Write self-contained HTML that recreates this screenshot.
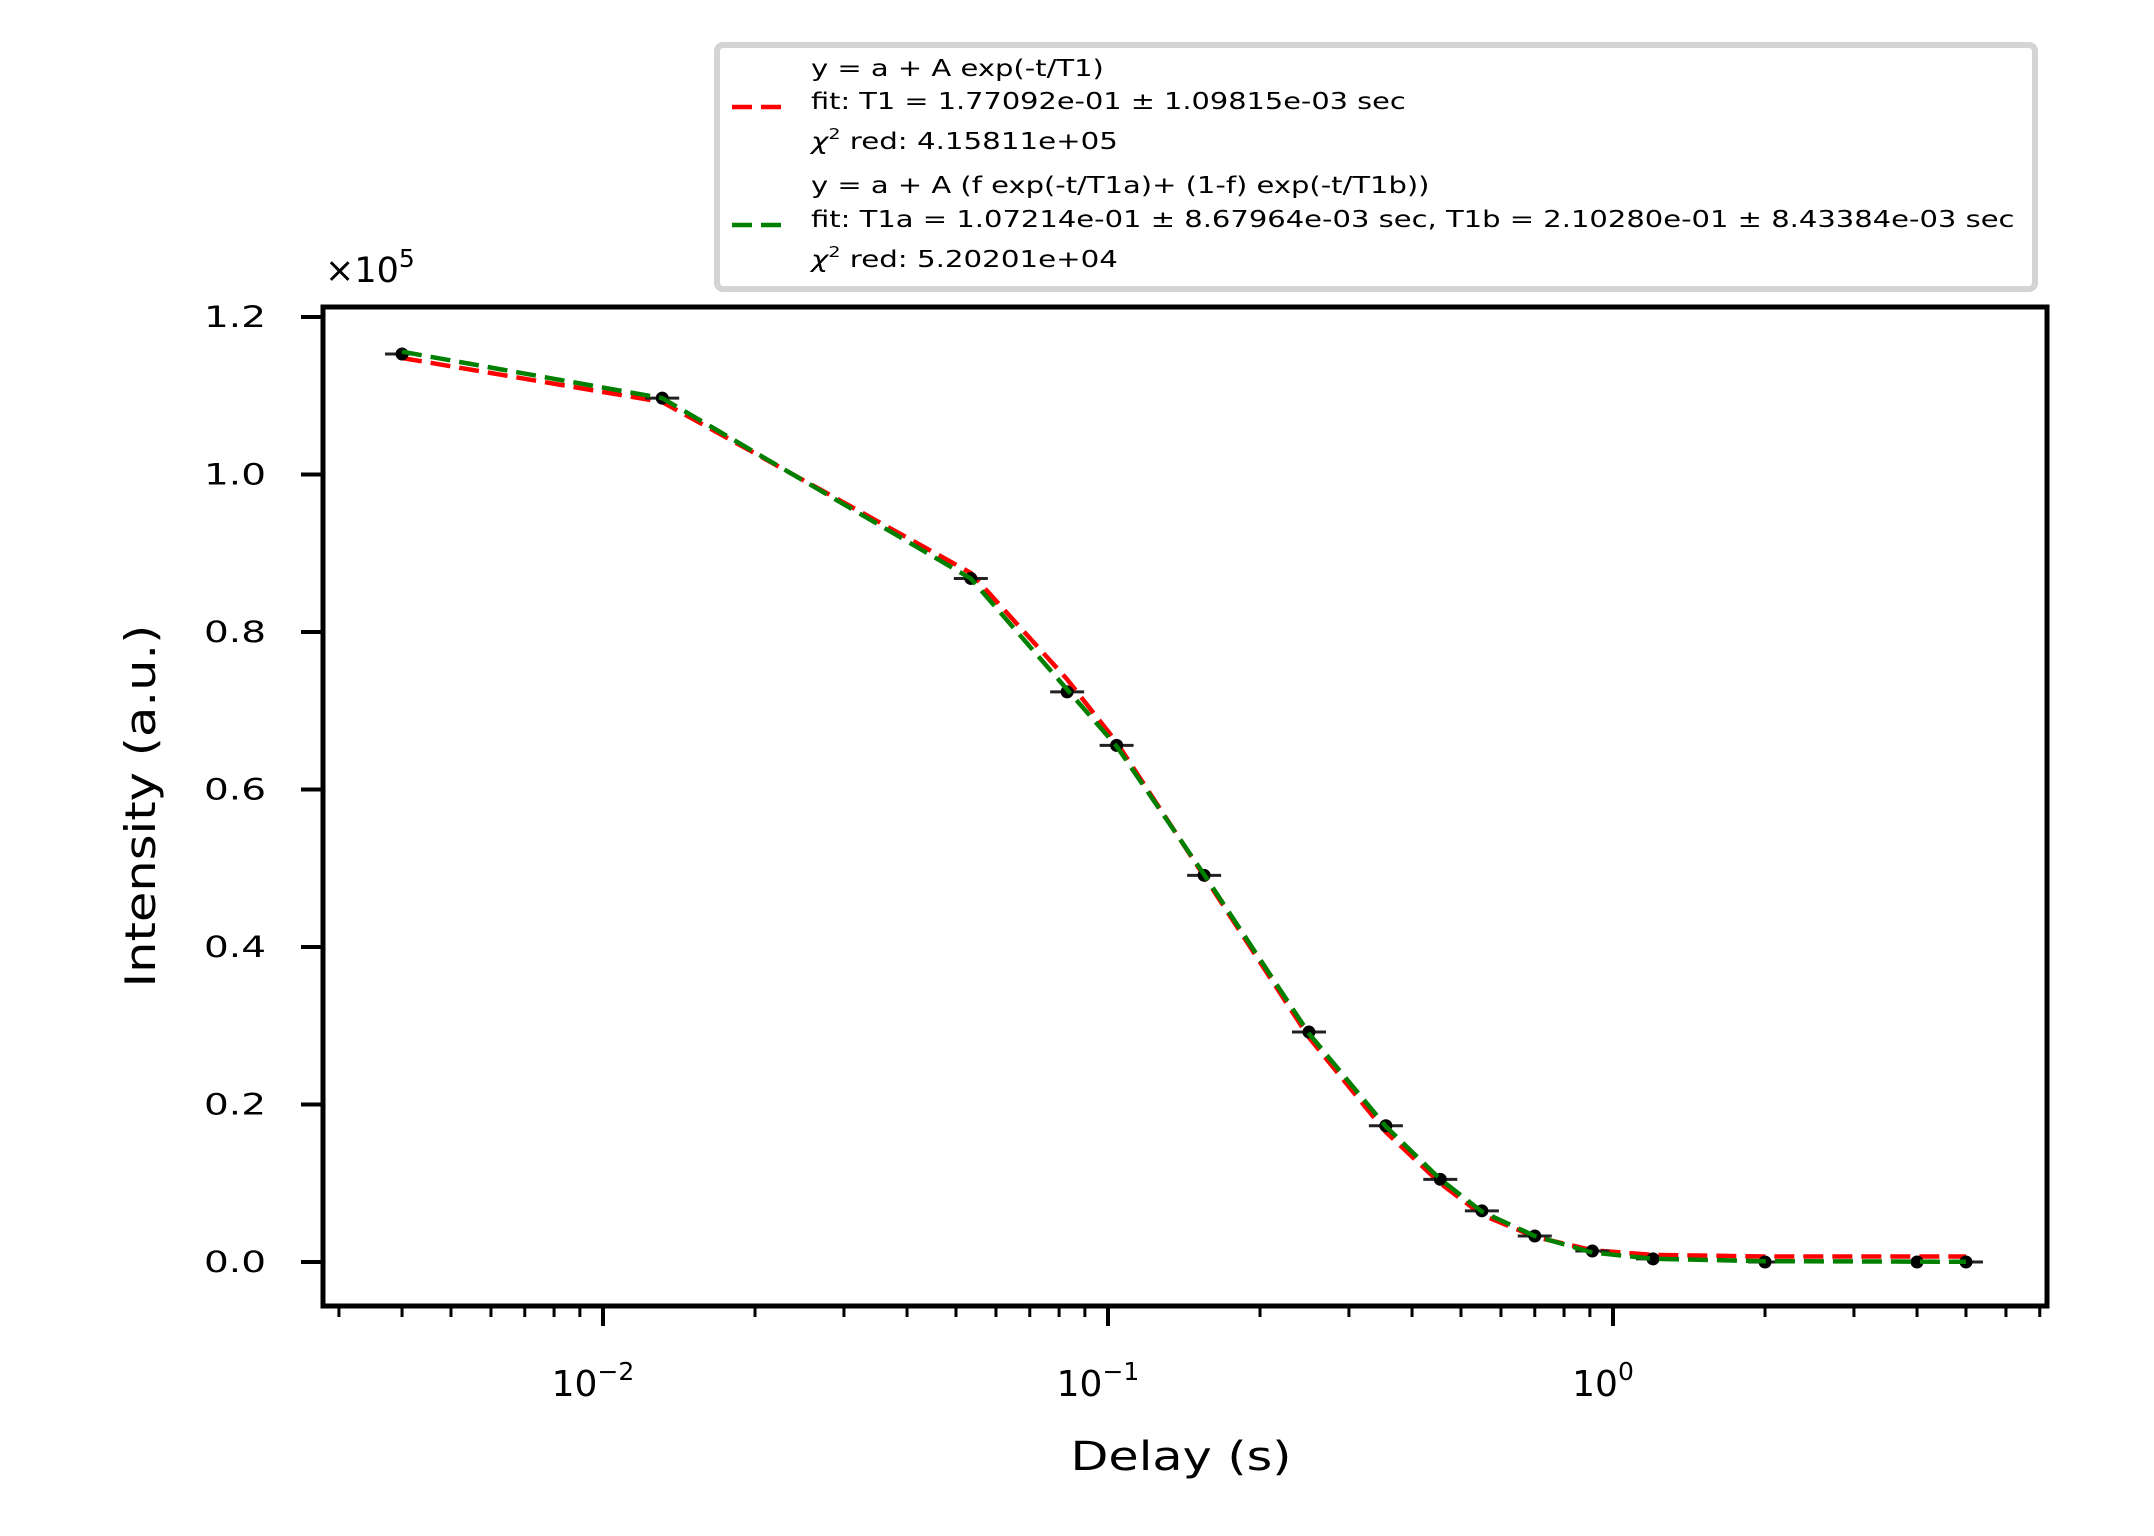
<!DOCTYPE html>
<html><head><meta charset="utf-8"><style>
html,body{margin:0;padding:0;background:#fff;}
svg{display:block;font-family:"DejaVu Sans","Liberation Sans",sans-serif;}
</style></head><body>
<svg id="chart" width="2154" height="1536" viewBox="0 0 2154 1536">
<g id="plot"></g>
</svg>
<script>
const delays=[0.004,0.0131,0.0535,0.083,0.104,0.155,0.25,0.355,0.455,0.55,0.70,0.91,1.2,2.0,4.0,5.0];
const intensity=[1.153,1.097,0.868,0.724,0.656,0.491,0.292,0.173,0.105,0.065,0.033,0.014,0.004,0.0,0.0,0.0];
const fitSingle=[1.148,1.092,0.875,0.740,0.660,0.490,0.285,0.165,0.100,0.060,0.032,0.015,0.009,0.007,0.007,0.007];
const fitDouble=[1.156,1.097,0.868,0.727,0.655,0.492,0.290,0.172,0.105,0.064,0.033,0.012,0.004,0.001,0.0005,0.0003];
const yTicks=[0,0.2,0.4,0.6,0.8,1.0,1.2];
const yTickLabels=["0.0","0.2","0.4","0.6","0.8","1.0","1.2"];
const xMajor=[-2,-1,0];

const NS="http://www.w3.org/2000/svg";
const L=323,R=2047,T=307,B=1306;
function xs(v){return 1108+505*(Math.log10(v)+1);}
function ys(v){return 1262-v*787.5;}
const g=document.getElementById('plot');
function el(tag,attrs,parent){const e=document.createElementNS(NS,tag);for(const k in attrs)e.setAttribute(k,attrs[k]);(parent||g).appendChild(e);return e;}

yTicks.forEach((v,i)=>{
  const t=el('line',{x1:L-22,x2:L,y1:ys(v),y2:ys(v),stroke:'#000','stroke-width':4});
  
  
  const lb=el('text',{x:204,y:ys(v)+10,'font-size':29,fill:'#000',textLength:62,lengthAdjust:'spacingAndGlyphs'});
  lb.textContent=yTickLabels[i];
  
  
});
for(let d=-3;d<=0;d++){
  for(let m=1;m<10;m++){
    const v=m*Math.pow(10,d);const x=xs(v);
    if(x<L||x>R)continue;
    const major=(m===1);
    const t=el('line',{x1:x,x2:x,y1:B,y2:B+(major?20:11),stroke:'#000','stroke-width':major?4:3});
    
    
  }
}
xMajor.forEach(p=>{
  const x=xs(Math.pow(10,p));
  const lb=el('text',{x:x-10,y:1396,'text-anchor':'middle','font-size':36,fill:'#000'});
  lb.textContent='10';
  const sp=el('tspan',{dy:-16,'font-size':25},lb);sp.textContent=(p<0?'\u2212':'')+Math.abs(p);
  
  
});

function pathFrom(vals){return delays.map((d,i)=>(i?'L':'M')+xs(d).toFixed(1)+' '+ys(vals[i]).toFixed(1)).join(' ');}
const red=el('path',{d:pathFrom(fitSingle),fill:'none',stroke:'#ff0000','stroke-width':4.5,'stroke-dasharray':'20 9'});


delays.forEach((d,i)=>{
  const x=xs(d),y=ys(intensity[i]);
  const eb=el('line',{x1:x-17,x2:x+17,y1:y,y2:y,stroke:'#222','stroke-width':3});
  
  
  const c=el('circle',{cx:x,cy:y,r:6.5,fill:'#000'});
  
  
});
const green=el('path',{d:pathFrom(fitDouble),fill:'none',stroke:'#008000','stroke-width':4.5,'stroke-dasharray':'20 9'});



const fr=el('rect',{x:L,y:T,width:R-L,height:B-T,fill:'none',stroke:'#000','stroke-width':5});



const off=el('text',{x:325,y:282,'font-size':35,fill:'#000'});off.textContent='\u00d710';
const os=el('tspan',{dy:-15,'font-size':25},off);os.textContent='5';


const yl=el('text',{x:0,y:0,'font-size':42,'text-anchor':'middle',fill:'#000',transform:'translate(155,806) rotate(-90)',textLength:363,lengthAdjust:'spacingAndGlyphs'});
yl.textContent='Intensity (a.u.)';


const xl=el('text',{x:1181,y:1470,'font-size':40,'text-anchor':'middle',fill:'#000',textLength:221,lengthAdjust:'spacingAndGlyphs'});
xl.textContent='Delay (s)';



const lg=el('g',{});


el('rect',{x:717,y:45,width:1318,height:244,rx:6,fill:'#fff',stroke:'#d4d4d4','stroke-width':6},lg);
const l1=el('line',{x1:732,x2:788,y1:107,y2:107,stroke:'#ff0000','stroke-width':4.5,'stroke-dasharray':'20 9'},lg);


const l2=el('line',{x1:732,x2:788,y1:225,y2:225,stroke:'#008000','stroke-width':4.5,'stroke-dasharray':'20 9'},lg);


const lines=[
 [76,'y = a + A exp(-t/T1)',null,293],
 [109,'fit: T1 = 1.77092e-01 \u00b1 1.09815e-03 sec',null,595],
 [149,null,'red: 4.15811e+05',307],
 [193,'y = a + A (f exp(-t/T1a)+ (1-f) exp(-t/T1b))',null,619],
 [227,'fit: T1a = 1.07214e-01 \u00b1 8.67964e-03 sec, T1b = 2.10280e-01 \u00b1 8.43384e-03 sec',null,1204],
 [267,null,'red: 5.20201e+04',307]
];
lines.forEach(l=>{
  const wrap=el('g',{transform:'translate(811,'+l[0]+')'},lg);
  const t=el('text',{x:0,y:0,'font-size':23,fill:'#000'},wrap);
  if(l[1]){t.textContent=l[1];}
  else{
    const a=el('tspan',{'font-style':'italic'},t);a.textContent='\u03c7';
    const b=el('tspan',{dy:-10,'font-size':15},t);b.textContent='2';
    const c=el('tspan',{dy:10,'font-size':23},t);c.textContent=' '+l[2];
  }
  
  
  let w=0;try{w=t.getComputedTextLength();}catch(e){}
  if(w>0){wrap.setAttribute('transform','translate(811,'+l[0]+') scale('+(l[3]/w).toFixed(4)+',1)');}
});
</script>
</body></html>
